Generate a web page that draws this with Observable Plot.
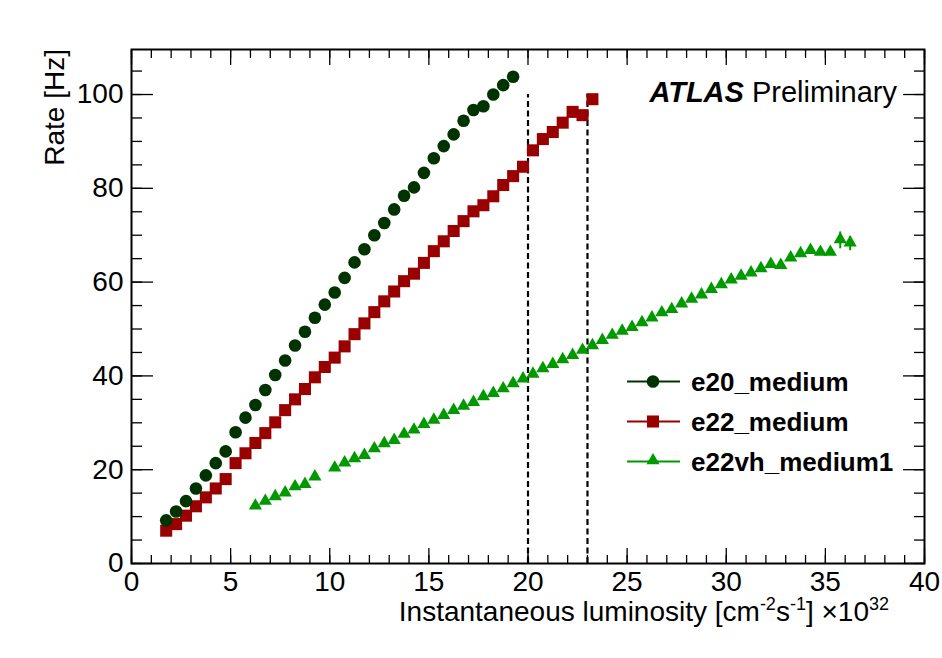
<!DOCTYPE html>
<html><head><meta charset="utf-8">
<script src="https://cdn.jsdelivr.net/npm/d3@7"></script>
<script src="https://cdn.jsdelivr.net/npm/@observablehq/plot@0.6"></script>
<style>
body{margin:0;background:#fff;}
#chart svg{display:block;}
</style></head><body><div id="chart"></div>
<script>
// ---- data ----
const seriesNames = ["e20_medium", "e22_medium", "e22vh_medium1"];
const seriesColors = ["#003300", "#990000", "#009900"];

const lumiE20 = [1.75,2.25,2.75,3.25,3.75,4.25,4.75,5.25,5.75,6.25,6.75,7.25,7.75,8.25,8.75,9.25,9.75,10.25,10.75,11.25,11.75,12.25,12.75,13.25,13.75,14.25,14.75,15.25,15.75,16.25,16.75,17.25,17.75,18.25,18.75,19.25];
const rateE20 = [9.2,11.1,13.3,16.0,18.8,21.4,23.9,28.0,31.1,33.8,37.0,40.2,43.3,46.5,49.4,52.4,55.2,57.8,60.9,64.2,67.0,70.0,72.6,75.5,78.4,80.2,83.3,86.4,89.0,91.5,94.4,96.7,97.5,100.0,102.0,103.8];

const lumiE22 = [1.75,2.25,2.75,3.25,3.75,4.25,4.75,5.25,5.75,6.25,6.75,7.25,7.75,8.25,8.75,9.25,9.75,10.25,10.75,11.25,11.75,12.25,12.75,13.25,13.75,14.25,14.75,15.25,15.75,16.25,16.75,17.25,17.75,18.25,18.75,19.25,19.75,20.25,20.75,21.25,21.75,22.25,22.75,23.25];
const rateE22 = [7.0,8.4,10.2,12.2,14.1,16.0,18.0,21.4,23.5,25.7,27.8,30.1,32.7,35.0,37.2,39.7,41.9,43.9,46.3,48.9,51.2,53.6,55.9,58.0,60.2,61.8,64.1,66.6,68.7,70.9,73.0,75.1,76.4,78.3,80.7,82.6,84.6,88.1,90.5,92.0,94.0,96.3,95.6,99.0];

const lumiE22vh = [6.25,6.75,7.25,7.75,8.25,8.75,9.25,10.25,10.75,11.25,11.75,12.25,12.75,13.25,13.75,14.25,14.75,15.25,15.75,16.25,16.75,17.25,17.75,18.25,18.75,19.25,19.75,20.25,20.75,21.25,21.75,22.25,22.75,23.25,23.75,24.25,24.75,25.25,25.75,26.25,26.75,27.25,27.75,28.25,28.75,29.25,29.75,30.25,30.75,31.25,31.75,32.25,32.75,33.25,33.75,34.25,34.75,35.25,35.75,36.25];
const rateE22vh = [12.1,13.1,14.1,14.9,16.2,16.7,18.3,20.2,21.3,22.2,22.9,24.3,25.4,26.1,27.4,28.3,29.5,30.4,31.4,32.5,33.4,34.2,35.4,36.1,37.1,38.2,39.2,40.2,41.4,42.3,43.3,44.2,45.3,46.3,47.4,48.5,49.4,50.2,51.2,52.2,53.3,54.0,55.2,56.2,57.1,58.3,59.3,60.3,61.1,61.8,62.7,63.6,63.4,65.0,65.9,66.6,66.2,66.2,68.9,68.2];
// visible error bars (only where larger than the marker)
const errLumi = [35.75, 36.25];
const errRate = [68.9, 68.2];
const errSize = [1.8, 1.5];

// vertical dashed reference lines
const cutLumi = [20, 23];
const cutRateTop = 100;

// axis ticks
const xMajorTicks = [0,5,10,15,20,25,30,35,40];
const yMajorTicks = [0,20,40,60,80,100];
const xMinorTicks = d3.range(0, 41, 1);
const yMinorTicks = d3.range(0, 110, 5);
const xDomain = [0, 40];
const yDomain = [0, 109.6];

// ---- build tables ----
const toRows = (xs, ys) => xs.map((x, i) => ({lumi: x, rate: ys[i]}));
const e20 = toRows(lumiE20, rateE20);
const e22 = toRows(lumiE22, rateE22);
const e22vh = toRows(lumiE22vh, rateE22vh);
const errRows = errLumi.map((x, i) => ({lumi: x, lo: errRate[i] - errSize[i], hi: errRate[i] + errSize[i]}));
const cutRows = cutLumi.map(x => ({lumi: x, top: cutRateTop}));

const font = "'Liberation Sans', Arial, Helvetica, sans-serif";
const blank = () => "";

const plot = Plot.plot({
  width: 942, height: 658,
  marginLeft: 131, marginRight: 18, marginTop: 49, marginBottom: 95,
  style: {fontFamily: font, background: "white", color: "black", overflow: "visible"},
  x: {domain: xDomain},
  y: {domain: yDomain},
  marks: [
    // inward ticks on all four sides (ROOT style)
    Plot.axisX(xMinorTicks, {anchor: "bottom", tickSize: -8, tickFormat: blank, label: null, strokeWidth: 1.3}),
    Plot.axisX(xMajorTicks, {anchor: "bottom", tickSize: -15, tickFormat: blank, label: null, strokeWidth: 1.3}),
    Plot.axisX(xMinorTicks, {anchor: "top", tickSize: -8, tickFormat: blank, label: null, strokeWidth: 1.3}),
    Plot.axisX(xMajorTicks, {anchor: "top", tickSize: -15, tickFormat: blank, label: null, strokeWidth: 1.3}),
    Plot.axisY(yMinorTicks, {anchor: "left", tickSize: -11, tickFormat: blank, label: null, strokeWidth: 1.3}),
    Plot.axisY(yMajorTicks, {anchor: "left", tickSize: -22, tickFormat: blank, label: null, strokeWidth: 1.3}),
    Plot.axisY(yMinorTicks, {anchor: "right", tickSize: -11, tickFormat: blank, label: null, strokeWidth: 1.3}),
    Plot.axisY(yMajorTicks, {anchor: "right", tickSize: -22, tickFormat: blank, label: null, strokeWidth: 1.3}),
    // tick labels
    Plot.axisX(xMajorTicks, {anchor: "bottom", tickSize: 0, tickPadding: 8, fontSize: 28, label: null, tickFormat: d => String(d)}),
    Plot.axisY(yMajorTicks, {anchor: "left", tickSize: 0, tickPadding: 8, fontSize: 28, label: null, tickFormat: d => String(d)}),
    // dashed lines
    Plot.ruleX(cutRows, {x: "lumi", y1: 0, y2: "top", stroke: "black", strokeWidth: 2.2, strokeDasharray: "6,3.5"}),
    // error bars
    Plot.ruleX(errRows, {x: "lumi", y1: "lo", y2: "hi", stroke: seriesColors[2], strokeWidth: 2}),
    // series
    Plot.dot(e22vh, {x: "lumi", y: "rate", symbol: "triangle", r: 4.9, fill: seriesColors[2], stroke: "none", dy: -1}),
    Plot.dot(e22, {x: "lumi", y: "rate", symbol: "square", r: 6.8, fill: seriesColors[1], stroke: "none"}),
    Plot.dot(e20, {x: "lumi", y: "rate", symbol: "circle", r: 6.3, fill: seriesColors[0], stroke: "none"}),
    Plot.frame({stroke: "black", strokeWidth: 2})
  ]
});
document.getElementById("chart").appendChild(plot);

// ---- titles, label and legend ----
const svg = d3.select(plot);

// x-axis title with superscripts
const xt = svg.append("text")
  .attr("x", 889).attr("y", 621)
  .attr("text-anchor", "end")
  .attr("font-family", font).attr("font-size", 28).attr("fill", "black");
xt.append("tspan").text("Instantaneous luminosity [cm");
xt.append("tspan").attr("font-size", 18).attr("dy", -11).text("-2");
xt.append("tspan").attr("dy", 11).text("s");
xt.append("tspan").attr("font-size", 18).attr("dy", -11).text("-1");
xt.append("tspan").attr("dy", 11).text("] \u00d710");
xt.append("tspan").attr("font-size", 18).attr("dy", -11).text("32");

// y-axis title
svg.append("text")
  .attr("transform", "translate(64,49) rotate(-90)")
  .attr("text-anchor", "end")
  .attr("font-family", font).attr("font-size", 28).attr("fill", "black")
  .text("Rate [Hz]");

// ATLAS label
const at = svg.append("text")
  .attr("x", 897).attr("y", 102)
  .attr("text-anchor", "end")
  .attr("font-family", font).attr("font-size", 29).attr("fill", "black");
at.append("tspan").attr("font-weight", "bold").attr("font-style", "italic").text("ATLAS");
at.append("tspan").text(" Preliminary");

// legend
const legendSymbols = [d3.symbolCircle, d3.symbolSquare, d3.symbolTriangle];
const legendR = [6.3, 6.8, 4.9];
const legendY = [381.5, 421.5, 461.5];
const lg = svg.append("g");
seriesNames.forEach((name, i) => {
  const y = legendY[i];
  lg.append("line").attr("x1", 627).attr("x2", 680).attr("y1", y).attr("y2", y)
    .attr("stroke", seriesColors[i]).attr("stroke-width", 2);
  lg.append("path")
    .attr("d", d3.symbol(legendSymbols[i], Math.PI * legendR[i] * legendR[i])())
    .attr("transform", `translate(653,${y + (i === 2 ? -1 : 0)})`)
    .attr("fill", seriesColors[i]);
  lg.append("text").attr("x", 691).attr("y", y + 9)
    .attr("text-anchor", "start")
    .attr("font-family", font).attr("font-size", 26).attr("font-weight", "bold")
    .attr("fill", "black").text(name);
});
</script>
</body></html>
